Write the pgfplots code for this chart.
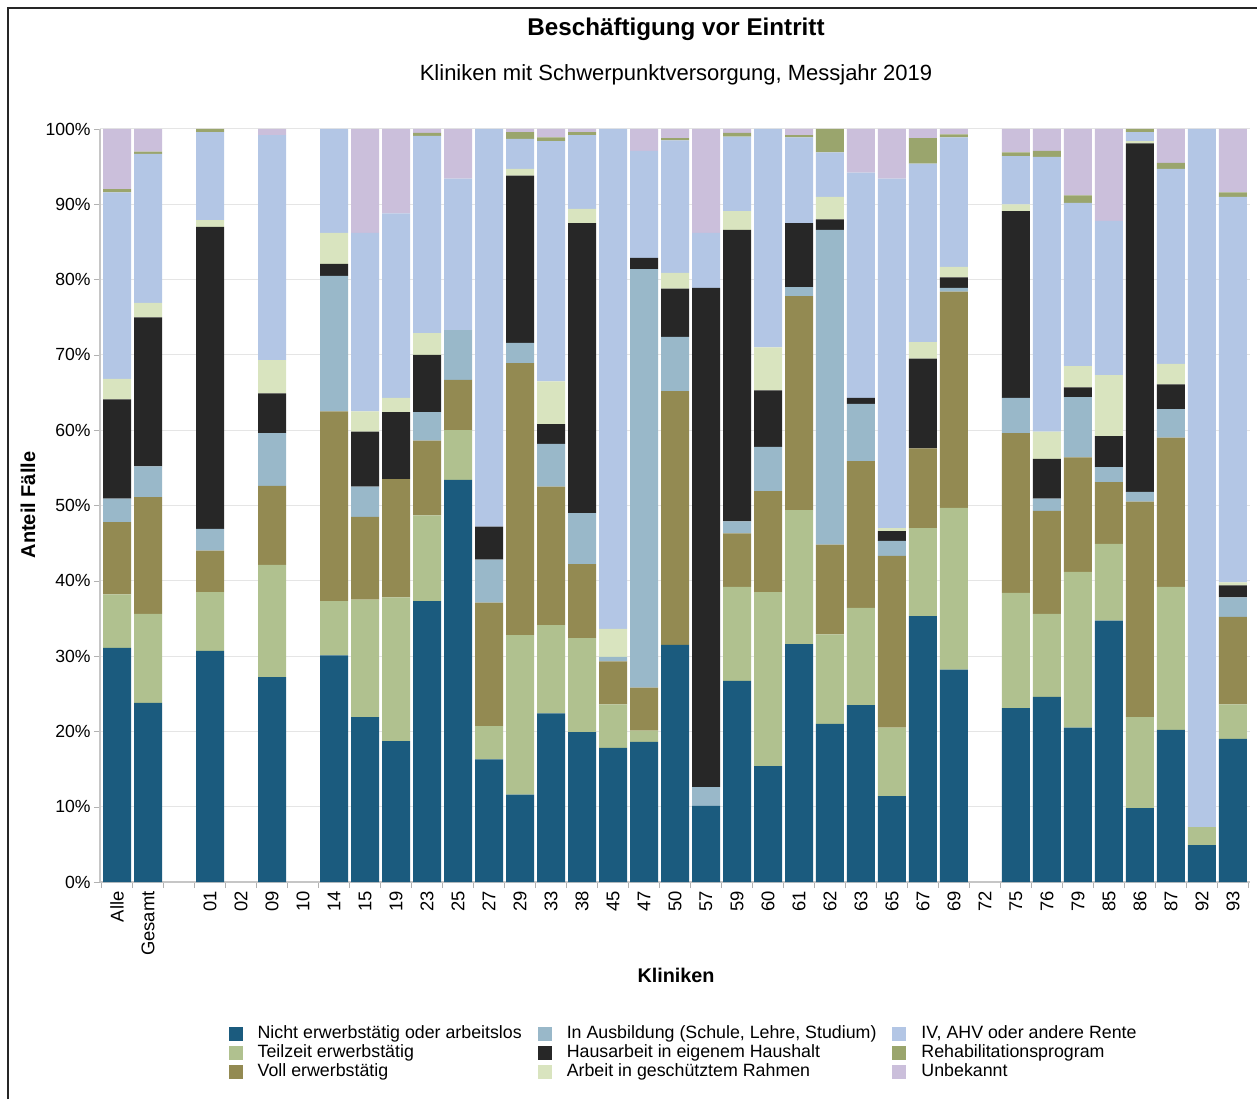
\documentclass[border=0pt]{standalone}
\usepackage{pgfplots}
\pgfplotsset{compat=1.18}
\usepackage{pgfplotstable}
\usepackage{fontspec}
\setmainfont{Liberation Sans}

% series colours
\definecolor{cNE}{RGB}{27,91,126}
\definecolor{cTZ}{RGB}{176,193,143}
\definecolor{cVZ}{RGB}{147,138,82}
\definecolor{cAU}{RGB}{153,184,201}
\definecolor{cHA}{RGB}{39,39,39}
\definecolor{cGS}{RGB}{217,228,191}
\definecolor{cIV}{RGB}{179,198,229}
\definecolor{cRE}{RGB}{154,165,109}
\definecolor{cUN}{RGB}{203,191,219}

% shares in percent, bottom to top
\pgfplotstableread{
x  ne   tz   vz   au   ha   gs   iv   re   un
0  31.1 7.1  9.6  3.1  13.2 2.7  24.8 0.4  8.0
1  23.8 11.8 15.5 4.1  19.8 1.9  19.8 0.3  3.0
3  30.7 7.8  5.5  2.9  40.1 0.9  11.7 0.4  0
4  0    0    0    0    0    0    0    0    0
5  27.2 14.9 10.5 7.0  5.3  4.4  29.9 0    0.8
6  0    0    0    0    0    0    0    0    0
7  30.1 7.2  25.2 18.0 1.6  4.1  13.8 0    0
8  21.9 15.6 11.0 4.0  7.3  2.7  23.7 0    13.8
9  18.7 19.1 15.7 0    8.9  1.9  24.5 0    11.2
10 37.3 11.4 9.9  3.8  7.6  2.9  26.2 0.4  0.5
11 53.4 6.6  6.7  6.6  0    0    20.1 0    6.6
12 16.3 4.4  16.4 5.7  4.4  0    52.8 0    0
13 11.6 21.2 36.1 2.7  22.2 0.9  4.0  0.9  0.4
14 22.4 11.7 18.4 5.7  2.6  5.7  31.9 0.5  1.1
15 19.9 12.5 9.8  6.8  38.5 1.9  9.8  0.4  0.4
16 17.8 5.8  5.7  0.6  0    3.7  66.4 0    0
17 18.6 1.5  5.7  55.6 1.5  0    14.2 0    2.9
18 31.5 0    33.7 7.2  6.4  2.1  17.6 0.3  1.2
19 10.1 0    0    2.5  66.3 0    7.3  0    13.8
20 26.7 12.5 7.1  1.6  38.7 2.5  9.9  0.5  0.5
21 15.4 23.1 13.4 5.9  7.5  5.7  29.0 0    0
22 31.6 17.8 28.4 1.2  8.5  0    11.4 0.3  0.8
23 21.0 11.9 11.9 41.8 1.4  3.0  5.9  3.1  0
24 23.5 12.9 19.5 7.6  0.8  0    29.9 0    5.8
25 11.4 9.1  22.8 2.0  1.3  0.4  46.4 0    6.6
26 35.3 11.7 10.6 0    11.9 2.2  23.7 3.4  1.2
27 28.2 21.5 28.7 0.5  1.4  1.4  17.2 0.4  0.7
28 0    0    0    0    0    0    0    0    0
29 23.1 15.3 21.2 4.7  24.8 0.9  6.4  0.5  3.1
30 24.6 11.0 13.7 1.6  5.3  3.6  36.5 0.8  2.9
31 20.5 20.7 15.2 8.0  1.3  2.8  21.7 1.0  8.8
32 34.7 10.2 8.2  2.0  4.1  8.1  20.5 0    12.2
33 9.8  12.1 28.6 1.3  46.3 0.3  1.2  0.4  0
34 20.2 19.0 19.8 3.8  3.3  2.7  25.9 0.8  4.5
35 4.9  2.4  0    0    0    0    92.7 0    0
36 19.0 4.6  11.6 2.6  1.6  0.4  51.2 0.6  8.4
}\data

\begin{document}
\begin{tikzpicture}
\useasboundingbox (-50pt,-108.5pt) rectangle (578.5pt,441pt);
\draw[black!85, line width=0.9pt] (-46pt,-108.5pt) -- (-46pt,437pt) -- (578.5pt,437pt);

\begin{axis}[
    at={(0,0)}, anchor=south west,
    scale only axis,
    width=575pt, height=376.5pt,
    ybar stacked,
    bar width=14pt,
    xmin=-0.55, xmax=36.55,
    ymin=0, ymax=100,
    xtick={0,...,36},
    xticklabels={Alle,Gesamt,{},01,02,09,10,14,15,19,23,25,27,29,33,38,45,47,50,57,59,60,61,62,63,65,67,69,72,75,76,79,85,86,87,92,93},
    major x tick style={draw=none},
    minor xtick={-0.5,0.5,...,36.5},
    minor x tick style={gray!60},
    minor tick length=3pt,
    x tick label style={rotate=90, anchor=east, font=\fontsize{9.2}{10}\selectfont, inner sep=1.5pt},
    ytick={0,10,...,100},
    yticklabels={0\%,10\%,20\%,30\%,40\%,50\%,60\%,70\%,80\%,90\%,100\%},
    y tick label style={font=\fontsize{8.8}{10}\selectfont, inner sep=1.5pt},
    y tick style={gray!60},
    major tick length=3pt,
    tick align=outside,
    ymajorgrids,
    grid style={gray!20, line width=0.5pt},
    axis x line*=bottom,
    axis y line*=left,
    axis line style={gray!45, line width=0.7pt},
    legend columns=3,
    transpose legend,
    legend cell align=left,
    legend style={at={(0.1063,-0.1795)}, anchor=north west, draw=none, fill=none,
        font=\fontsize{8.9}{10}\selectfont, row sep=-2.4pt,
        /tikz/every odd column/.append style={column sep=5.5pt},
        /tikz/every even column/.append style={column sep=6pt}},
    legend image code/.code={\path[#1, draw=none] (0pt,-3.5pt) rectangle (7pt,3.5pt);},
]
\addplot[fill=cNE, draw=none] table[x=x, y=ne]{\data};
\addplot[fill=cTZ, draw=none] table[x=x, y=tz]{\data};
\addplot[fill=cVZ, draw=none] table[x=x, y=vz]{\data};
\addplot[fill=cAU, draw=none] table[x=x, y=au]{\data};
\addplot[fill=cHA, draw=none] table[x=x, y=ha]{\data};
\addplot[fill=cGS, draw=none] table[x=x, y=gs]{\data};
\addplot[fill=cIV, draw=none] table[x=x, y=iv]{\data};
\addplot[fill=cRE, draw=none] table[x=x, y=re]{\data};
\addplot[fill=cUN, draw=none] table[x=x, y=un]{\data};
\legend{Nicht erwerbstätig oder arbeitslos, Teilzeit erwerbstätig, Voll erwerbstätig,
    {In Ausbildung (Schule, Lehre, Studium)}, Hausarbeit in eigenem Haushalt, Arbeit in geschütztem Rahmen,
    {IV, AHV oder andere Rente}, Rehabilitationsprogram, Unbekannt}
\end{axis}

\node[font=\bfseries\fontsize{12.1}{14}\selectfont] at (288pt,426.5pt) {Beschäftigung vor Eintritt};
\node[font=\fontsize{11}{13}\selectfont] at (288pt,403.5pt) {Kliniken mit Schwerpunktversorgung, Messjahr 2019};
\node[font=\bfseries\fontsize{10}{12}\selectfont, rotate=90] at (-36pt,188.5pt) {Anteil Fälle};
\node[font=\bfseries\fontsize{9.9}{12}\selectfont] at (288pt,-46.5pt) {Kliniken};
\end{tikzpicture}
\end{document}
